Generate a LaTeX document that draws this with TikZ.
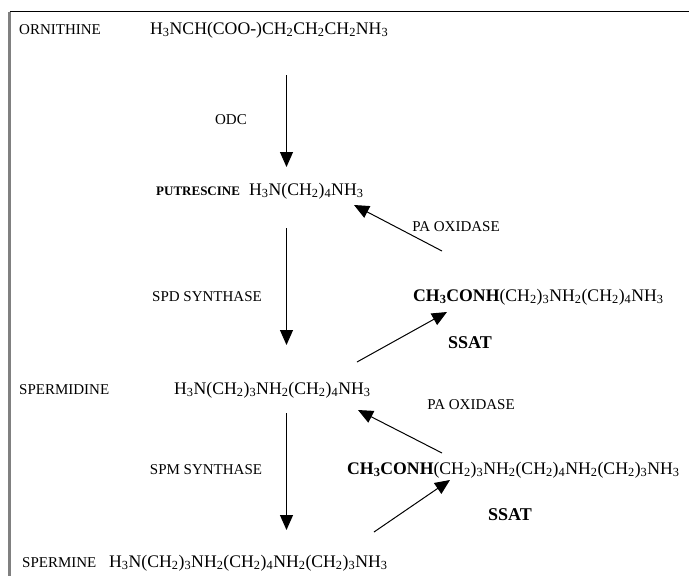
\documentclass[tikz,border=0pt]{standalone}
\usepackage{fontspec}
\setmainfont{Liberation Serif}
\usetikzlibrary{arrows.meta}
\newcommand{\sub}[1]{\textsubscript{#1}}

\begin{document}
\begin{tikzpicture}[x=1pt,y=-1pt,
cpd/.style={font=\fontsize{15}{17}\selectfont, inner sep=0pt, anchor=west},
chem/.style={font=\fontsize{17.7}{20}\selectfont, inner sep=0pt, anchor=west},
enz/.style={font=\fontsize{15}{17}\selectfont, inner sep=0pt},
enzb/.style={font=\fontsize{18}{20}\selectfont\bfseries, inner sep=0pt},
flow/.style={line width=1pt, -{Triangle[length=15pt,width=13pt]}},
]
\useasboundingbox (0,0) rectangle (689,576);
%Frame
\draw[line width=1.5pt] (9.5,11.7) -- (689,11.7);
\draw[gray, line width=2.5pt] (9.5,11.7) -- (9.5,576);

%Nodes
\node[cpd]  (ornname) at (19,30)  {ORNITHINE};
\node[chem] (ornf)    at (150,30) {H\sub{3}NCH(COO-)CH\sub{2}CH\sub{2}CH\sub{2}NH\sub{3}};
\node[enz]  (odc)     at (231,120) {ODC};
\node[cpd, font=\fontsize{13}{15}\selectfont\bfseries] (putname) at (156,191) {PUTRESCINE};
\node[chem] (putf)    at (249,191) {H\sub{3}N(CH\sub{2})\sub{4}NH\sub{3}};
\node[enz]  (paoxa)   at (456,227) {PA OXIDASE};
\node[enz]  (spds)    at (207,297) {SPD SYNTHASE};
\node[chem] (acspd)   at (413,297) {\textbf{CH\sub{3}CONH}(CH\sub{2})\sub{3}NH\sub{2}(CH\sub{2})\sub{4}NH\sub{3}};
\node[enzb] (ssata)   at (470,343) {SSAT};
\node[cpd]  (spdname) at (19,390) {SPERMIDINE};
\node[chem] (spdf)    at (174,390) {H\sub{3}N(CH\sub{2})\sub{3}NH\sub{2}(CH\sub{2})\sub{4}NH\sub{3}};
\node[enz]  (paoxb)   at (471,405) {PA OXIDASE};
\node[enz]  (spms)    at (206,470) {SPM SYNTHASE};
\node[chem] (acspm)   at (347,470) {\textbf{CH\sub{3}CONH}(CH\sub{2})\sub{3}NH\sub{2}(CH\sub{2})\sub{4}NH\sub{2}(CH\sub{2})\sub{3}NH\sub{3}};
\node[enzb] (ssatb)   at (510,515) {SSAT};
\node[cpd]  (spmname) at (22,563) {SPERMINE};
\node[chem] (spmf)    at (109,563) {H\sub{3}N(CH\sub{2})\sub{3}NH\sub{2}(CH\sub{2})\sub{4}NH\sub{2}(CH\sub{2})\sub{3}NH\sub{3}};

%Arrow ends
\coordinate (odcin)    at (286.5,75);
\coordinate (odcout)   at (286.5,167);
\coordinate (paoxain)  at (442,251);
\coordinate (paoxaout) at (354,205);
\coordinate (spdsin)   at (286.5,228);
\coordinate (spdsout)  at (286.5,345);
\coordinate (ssatain)  at (357,362);
\coordinate (ssataout) at (447,312);
\coordinate (paoxbin)  at (442,453);
\coordinate (paoxbout) at (358,410);
\coordinate (spmsin)   at (286.5,413);
\coordinate (spmsout)  at (286.5,530);
\coordinate (ssatbin)  at (374,532);
\coordinate (ssatbout) at (450,480);

%Lines
\draw[flow] (odcin) -- (odcout);
\draw[flow] (paoxain) -- (paoxaout);
\draw[flow] (spdsin) -- (spdsout);
\draw[flow] (ssatain) -- (ssataout);
\draw[flow] (paoxbin) -- (paoxbout);
\draw[flow] (spmsin) -- (spmsout);
\draw[flow] (ssatbin) -- (ssatbout);
\end{tikzpicture}
\end{document}
